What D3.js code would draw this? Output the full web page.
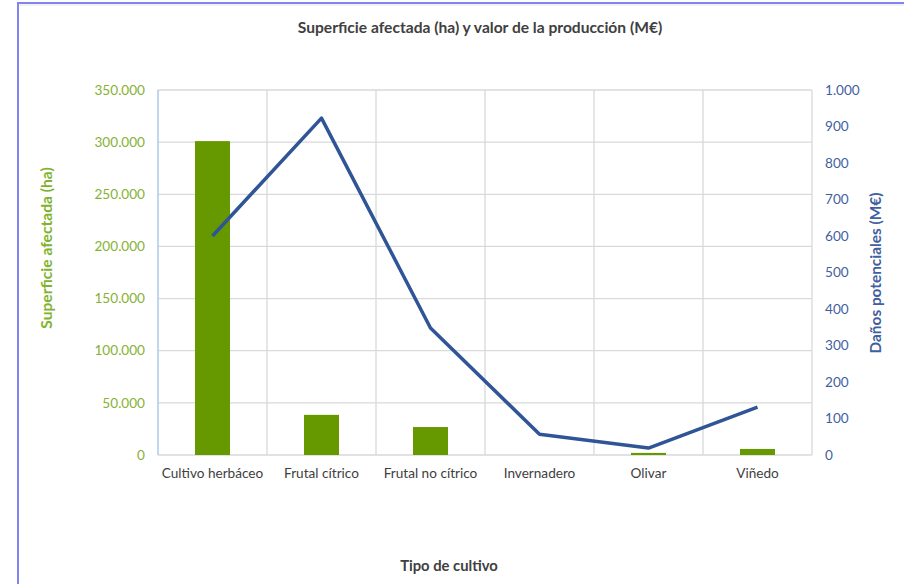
<!DOCTYPE html>
<html><head><meta charset="utf-8">
<script src="https://cdn.jsdelivr.net/npm/d3@7"></script>
<style>body{margin:0;background:#fff;}svg{display:block;font-family:Lato,"Open Sans",sans-serif;}</style>
</head><body>
<svg id="c" width="904" height="584"></svg>
<script>
const categories = ["Cultivo herbáceo","Frutal cítrico","Frutal no cítrico","Invernadero","Olivar","Viñedo"];
const superficie = [301000, 38500, 26800, 0, 2000, 5800];
const danos = [600, 923, 348, 57, 19, 131];
const leftTicks = [0,50000,100000,150000,200000,250000,300000,350000];
const rightTicks = [0,100,200,300,400,500,600,700,800,900,1000];

const svg = d3.select("#c");
const loc = d3.formatLocale({decimal:",", thousands:".", grouping:[3], currency:["","€"]});
const fmt = loc.format(",d");

// frame
svg.append("rect").attr("x",18).attr("y",3).attr("width",900).attr("height",600)
  .attr("fill","none").attr("stroke","#8484f0").attr("stroke-width",2);
svg.append("line").attr("x1",19).attr("x2",904).attr("y1",5).attr("y2",5).attr("stroke","#e4e4ee").attr("stroke-width",1);

const L = 158, R = 812, T = 90, B = 455;
const x = d3.scaleBand().domain(categories).range([L,R]).paddingInner(0).paddingOuter(0);
const yL = d3.scaleLinear().domain([0,350000]).range([B,T]);
const yR = d3.scaleLinear().domain([0,1000]).range([B,T]);

// horizontal gridlines
svg.append("g").selectAll("line").data(leftTicks.filter(d=>d>0)).join("line")
  .attr("x1",L).attr("x2",R).attr("y1",d=>yL(d)).attr("y2",d=>yL(d))
  .attr("stroke","#d9d9d9").attr("stroke-width",1.3);
// vertical category gridlines
const vx = categories.map(c=>x(c)).concat([R]).slice(1);
svg.append("g").selectAll("line").data(vx).join("line")
  .attr("x1",d=>d).attr("x2",d=>d).attr("y1",T).attr("y2",B)
  .attr("stroke","#d9d9d9").attr("stroke-width",1.3);
// bottom axis line
svg.append("line").attr("x1",L).attr("x2",R).attr("y1",B).attr("y2",B).attr("stroke","#d9d9d9").attr("stroke-width",1.3);
// left axis line
svg.append("line").attr("x1",L).attr("x2",L).attr("y1",T).attr("y2",B).attr("stroke","#9dc3e6").attr("stroke-width",1.3);

// bars
const bw = 35;
svg.append("g").selectAll("rect").data(categories).join("rect")
  .attr("x",(d)=>x(d)+x.bandwidth()/2-bw/2).attr("width",bw)
  .attr("y",(d,i)=>yL(superficie[i])).attr("height",(d,i)=>B-yL(superficie[i]))
  .attr("fill","#669900");

// line
const line = d3.line().x((d,i)=>x(categories[i])+x.bandwidth()/2).y(d=>yR(d));
svg.append("path").datum(danos).attr("d",line).attr("fill","none")
  .attr("stroke","#2f5597").attr("stroke-width",3.5).attr("stroke-linejoin","round");

// left axis labels
svg.append("g").selectAll("text").data(leftTicks).join("text")
  .attr("x",145).attr("y",d=>yL(d)).attr("dy","0.35em").attr("text-anchor","end")
  .attr("font-size",13.6).attr("fill","#84b234").text(d=>fmt(d));
// right axis labels
svg.append("g").selectAll("text").data(rightTicks).join("text")
  .attr("x",825).attr("y",d=>yR(d)).attr("dy","0.35em").attr("text-anchor","start")
  .attr("font-size",13.6).attr("fill","#3f5f9f").text(d=>fmt(d));
// category labels
svg.append("g").selectAll("text").data(categories).join("text")
  .attr("x",d=>x(d)+x.bandwidth()/2).attr("y",473).attr("dy","0.35em").attr("text-anchor","middle")
  .attr("font-size",13.6).attr("fill","#404040").text(d=>d);

// titles
svg.append("text").attr("x",480).attr("y",28).attr("dy","0.35em").attr("text-anchor","middle")
  .attr("font-size",15.6).attr("font-weight","bold").attr("fill","#404040")
  .text("Superficie afectada (ha) y valor de la producción (M€)");
svg.append("text").attr("transform","translate(47,248) rotate(-90)").attr("dy","0.35em").attr("text-anchor","middle")
  .attr("font-size",15.6).attr("font-weight","bold").attr("fill","#7fb32d").text("Superficie afectada (ha)");
svg.append("text").attr("transform","translate(876,273) rotate(-90)").attr("dy","0.35em").attr("text-anchor","middle")
  .attr("font-size",15.4).attr("font-weight","bold").attr("fill","#3f5f9f").text("Daños potenciales (M€)");
svg.append("text").attr("x",449).attr("y",566).attr("dy","0.35em").attr("text-anchor","middle")
  .attr("font-size",14.8).attr("font-weight","bold").attr("fill","#404040").text("Tipo de cultivo");
</script>
</body></html>
